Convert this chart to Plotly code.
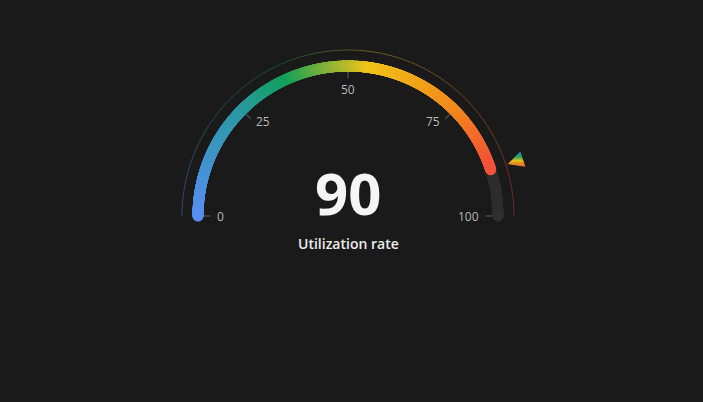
import numpy as np
import plotly.graph_objects as go

# ---- data ----
value = 90
v_min = 0
v_max = 100
tick_values = [0, 25, 50, 75, 100]
tick_labels = ["0", "25", "50", "75", "100"]
title_text = "Utilization rate"

# ---- styles ----
BG = "#1a1a1a"
BAR_STOPS = [(0.0, "#5a8ff5"), (0.25, "#2d99a6"), (0.37, "#13a05b"),
             (0.55, "#f0c419"), (0.75, "#f28b1d"), (0.9, "#f4503a"), (1.0, "#e5353c")]
PTR_STOPS = [(0.0, "#2f80e6"), (0.35, "#1fa35a"), (0.62, "#e9c21c"), (1.0, "#f2612a")]
CX, CY = 348, 216
R_BAR, BAR_W = 150, 11
R_OUT = 166
W, H = 703, 402


def hex2rgb(h):
    h = h.lstrip("#")
    return np.array([int(h[i:i + 2], 16) for i in (0, 2, 4)], dtype=float)


def grad(stops, t):
    t = min(max(t, 0.0), 1.0)
    for (a, ca), (b, cb) in zip(stops[:-1], stops[1:]):
        if t <= b:
            f = 0 if b == a else (t - a) / (b - a)
            return hex2rgb(ca) * (1 - f) + hex2rgb(cb) * f
    return hex2rgb(stops[-1][1])


def rgb(c, alpha=1.0):
    bg = hex2rgb(BG)
    c = c * alpha + bg * (1 - alpha)
    return "rgb(%d,%d,%d)" % tuple(int(round(x)) for x in c)


def ang(v):
    return np.pi * (1 - (v - v_min) / (v_max - v_min))


def pt(v, r, dang=0.0):
    a = ang(v) + dang
    return CX + r * np.cos(a), CY - r * np.sin(a)


fig = go.Figure()

# outer thin arc
n_out = 120
vs = np.linspace(v_min, v_max, n_out + 1)
for i in range(n_out):
    seg = np.linspace(vs[i], vs[i + 1], 4)
    xs, ys = pt(seg, R_OUT)
    t = (0.5 * (vs[i] + vs[i + 1]) - v_min) / (v_max - v_min)
    fig.add_trace(go.Scatter(x=xs, y=ys, mode="lines",
                             line=dict(color=rgb(grad(BAR_STOPS, t), 0.4), width=1),
                             hoverinfo="skip", showlegend=False))

# track
tv = np.linspace(v_min, v_max, 1200)
tx, ty = pt(tv, R_BAR)
fig.add_trace(go.Scatter(x=tx, y=ty, mode="markers",
                         marker=dict(size=BAR_W, color="#2f2f2f", line=dict(width=0)),
                         hoverinfo="skip", showlegend=False))

# progress
pv = np.linspace(v_min, value, 1100)
px, py = pt(pv, R_BAR)
pcols = [rgb(grad(BAR_STOPS, (v - v_min) / (v_max - v_min))) for v in pv]
fig.add_trace(go.Scatter(x=px, y=py, mode="markers",
                         marker=dict(size=BAR_W, color=pcols, line=dict(width=0)),
                         hoverinfo="skip", showlegend=False))

# ticks and labels
for v, lab in zip(tick_values, tick_labels):
    x0, y0 = pt(v, 137.5)
    x1, y1 = pt(v, 144)
    fig.add_trace(go.Scatter(x=[x0, x1], y=[y0, y1], mode="lines",
                             line=dict(color="#4a4a4a", width=1.5),
                             hoverinfo="skip", showlegend=False))
    c = np.cos(ang(v))
    if abs(c) <= 0.1:
        lx, ly = pt(v, 127)
        xa = "center"
    else:
        lx, ly = pt(v, 133)
        xa = "left" if c < 0 else "right"
    fig.add_annotation(x=lx, y=ly, text=lab, showarrow=False, xanchor=xa, yanchor="middle",
                       font=dict(family="Open Sans, sans-serif", size=12, color="#b8b8b8"))

# pointer (gradient triangle via horizontal bands)
tip = pt(value, 168)
c1 = pt(value, 184, np.radians(2.5))
c2 = pt(value, 184, -np.radians(2.5))
tri = [tip, c1, c2]


def clip(poly, y0, keep_above):
    out = []
    n = len(poly)
    for i in range(n):
        p, q = poly[i], poly[(i + 1) % n]
        ip = (p[1] >= y0) if keep_above else (p[1] <= y0)
        iq = (q[1] >= y0) if keep_above else (q[1] <= y0)
        if ip:
            out.append(p)
        if ip != iq:
            f = (y0 - p[1]) / (q[1] - p[1])
            out.append((p[0] + f * (q[0] - p[0]), y0))
    return out


ymin = min(p[1] for p in tri)
ymax = max(p[1] for p in tri)
nb = 14
edges = np.linspace(ymin, ymax, nb + 1)
for i in range(nb):
    poly = clip(tri, edges[i] - 0.3, True)
    poly = clip(poly, edges[i + 1] + 0.3, False)
    if len(poly) < 3:
        continue
    col = rgb(grad(PTR_STOPS, (i + 0.5) / nb))
    fig.add_trace(go.Scatter(x=[p[0] for p in poly] + [poly[0][0]],
                             y=[p[1] for p in poly] + [poly[0][1]],
                             mode="lines", fill="toself", fillcolor=col,
                             line=dict(width=0, color=col),
                             hoverinfo="skip", showlegend=False))

# value and title
fig.add_annotation(x=CX, y=192, text=str(value), showarrow=False,
                   xanchor="center", yanchor="middle",
                   font=dict(family="Open Sans, sans-serif", size=58, color="#f5f5f5", weight="bold"))
fig.add_annotation(x=CX, y=243, text=title_text, showarrow=False,
                   xanchor="center", yanchor="middle",
                   font=dict(family="Open Sans, sans-serif", size=14, color="#ececec", weight=600))

fig.update_layout(
    width=W, height=H, margin=dict(l=0, r=0, t=0, b=0),
    paper_bgcolor=BG, plot_bgcolor=BG,
    xaxis=dict(range=[0, W], visible=False, fixedrange=True),
    yaxis=dict(range=[H, 0], visible=False, fixedrange=True),
    showlegend=False,
)

fig.write_html("out.html")
